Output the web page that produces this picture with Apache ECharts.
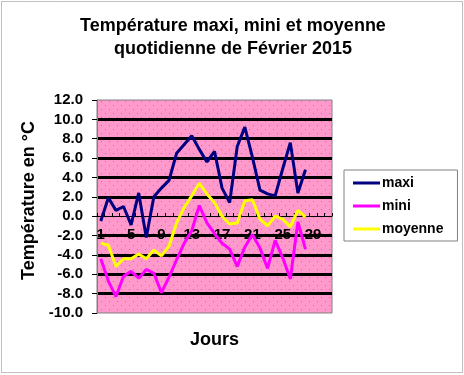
<!DOCTYPE html>
<html>
<head>
<meta charset="utf-8">
<script src="https://cdn.jsdelivr.net/npm/echarts@6/dist/echarts.min.js"></script>
<style>
html,body{margin:0;padding:0;background:#fff;}
#chart{width:464px;height:375px;}
</style>
</head>
<body>
<div id="chart"></div>
<script>
// Day categories (axis runs 1..31, data for the 28 days of February 2015)
const days = [];
for (let d = 1; d <= 31; d++) days.push(String(d));
const maxi = [-0.5, 1.9, 0.6, 1.0, -0.9, 2.4, -2.2, 2.0, 2.9, 3.7, 6.5, 7.4, 8.3, 6.9, 5.6, 6.7, 2.9, 1.4, 7.2, 9.2, 6.1, 2.7, 2.3, 2.1, 4.9, 7.6, 2.4, 4.8];
const mini = [-4.4, -6.7, -8.3, -6.2, -5.7, -6.4, -5.5, -5.9, -7.9, -6.3, -4.5, -2.8, -1.5, 1.1, -0.7, -1.8, -2.8, -3.4, -5.2, -3.2, -1.9, -3.3, -5.4, -2.5, -4.3, -6.5, -0.6, -3.4];
const moyenne = [-2.8, -3.0, -5.2, -4.4, -4.4, -3.9, -4.4, -3.5, -4.1, -3.1, -0.7, 0.9, 2.1, 3.4, 2.3, 1.4, 0.0, -0.8, -0.7, 1.6, 1.7, -0.3, -1.0, 0.0, -0.3, -1.1, 0.6, -0.1];

const FONT = '"Liberation Sans", Arial, sans-serif';

// dotted pink pattern for plot background
const pc = document.createElement('canvas');
pc.width = 8; pc.height = 8;
const pctx = pc.getContext('2d');
pctx.fillStyle = '#ff99cc';
pctx.fillRect(0, 0, 8, 8);
pctx.fillStyle = '#e0609a';
pctx.fillRect(1, 1, 1, 1);
pctx.fillRect(5, 5, 1, 1);

const chart = echarts.init(document.getElementById('chart'), null, {renderer: 'canvas'});
chart.setOption({
  backgroundColor: '#ffffff',
  animation: false,
  title: {
    text: 'Température maxi, mini et moyenne\nquotidienne de Février 2015',
    left: 228,
    textAlign: 'center',
    top: 10,
    textStyle: {fontFamily: FONT, fontWeight: 'bold', fontSize: 18, lineHeight: 23, color: '#000'}
  },
  legend: {
    orient: 'vertical',
    left: 344,
    top: 170,
    padding: [6, 14, 5, 9],
    itemGap: 9,
    itemWidth: 27,
    itemHeight: 3,
    icon: 'rect',
    borderColor: '#808080',
    borderWidth: 1,
    backgroundColor: '#fff',
    textStyle: {fontFamily: FONT, fontWeight: 'bold', fontSize: 14, color: '#000', padding: [0, 0, 0, -3]},
    data: ['maxi', 'mini', 'moyenne']
  },
  grid: {
    left: 97, top: 100, width: 235, height: 213,
    containLabel: false,
    outerBoundsMode: 'none',
    show: true,
    backgroundColor: {image: pc, repeat: 'repeat'},
    borderColor: '#808080',
    borderWidth: 1
  },
  xAxis: {
    type: 'category',
    data: days,
    boundaryGap: true,
    position: 'bottom',
    offset: -97,
    name: 'Jours',
    nameLocation: 'middle',
    nameGap: 115,
    nameTextStyle: {fontFamily: FONT, fontWeight: 'bold', fontSize: 18, color: '#000'},
    axisLine: {onZero: false, lineStyle: {color: '#000', width: 1}},
    axisTick: {show: true, inside: true, length: 3, interval: 0, lineStyle: {color: '#000'}},
    axisLabel: {interval: 3, margin: 11, fontFamily: FONT, fontWeight: 'bold', fontSize: 15, color: '#000'},
    splitLine: {show: false}
  },
  yAxis: {
    type: 'value',
    min: -10, max: 12, interval: 2,
    name: 'Température en °C',
    nameLocation: 'middle',
    nameGap: 54,
    nameTextStyle: {fontFamily: FONT, fontWeight: 'bold', fontSize: 18, color: '#000', padding: [0, 0, 0, 12]},
    axisLine: {show: true, lineStyle: {color: '#808080', width: 1}},
    axisTick: {show: true, inside: false, length: 5, lineStyle: {color: '#000'}},
    axisLabel: {margin: 14, showMinLabel: true, showMaxLabel: true, hideOverlap: false,
      fontFamily: FONT, fontWeight: 'bold', fontSize: 15, color: '#000',
      formatter: v => v.toFixed(1)},
    splitLine: {show: true, lineStyle: {width: 3, color: ['rgba(0,0,0,0)', '#000', '#000', '#000', '#000', 'rgba(0,0,0,0)', '#000', '#000', '#000', '#000', '#000', 'rgba(0,0,0,0)']}}
  },
  graphic: [{
    type: 'rect',
    shape: {x: 1.5, y: 1.5, width: 461, height: 371},
    style: {fill: null, stroke: '#808080', lineWidth: 1, lineDash: [1, 1]},
    silent: true
  }],
  series: [
    {name: 'maxi', type: 'line', data: maxi, showSymbol: false, symbol: 'none', lineStyle: {color: '#000080', width: 3}, itemStyle: {color: '#000080'}, z: 4},
    {name: 'mini', type: 'line', data: mini, showSymbol: false, symbol: 'none', lineStyle: {color: '#ff00ff', width: 3}, itemStyle: {color: '#ff00ff'}, z: 3},
    {name: 'moyenne', type: 'line', data: moyenne, showSymbol: false, symbol: 'none', lineStyle: {color: '#ffff00', width: 3}, itemStyle: {color: '#ffff00'}, z: 2}
  ]
});
</script>
</body>
</html>
